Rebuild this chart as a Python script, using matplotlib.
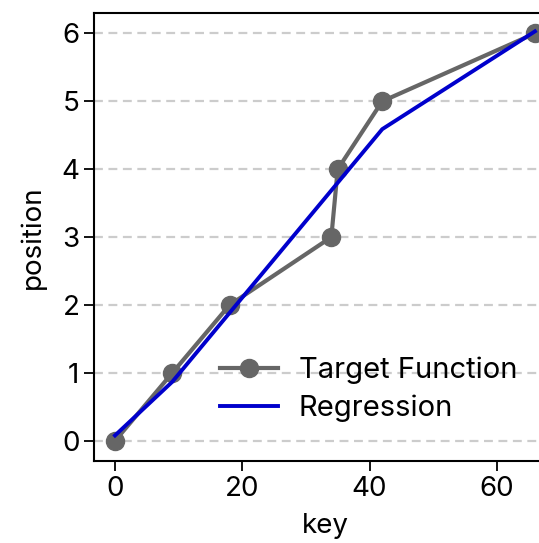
import numpy as np
import matplotlib
matplotlib.use('Agg')
import matplotlib.pyplot as plt

plt.rcParams['font.family'] = ['Inter', 'DejaVu Sans']

# target function (sorted keys -> positions)
keys = [0, 9, 18, 34, 35, 42, 66]
positions = [0, 1, 2, 3, 4, 5, 6]

# piecewise regression
reg_keys = [0, 9, 42, 66]
reg_pos = [0.08, 0.87, 4.59, 6.03]

fig = plt.figure(figsize=(5.39, 5.43), dpi=100)
ax = fig.add_axes([0.1744, 0.1505, 0.857, 0.8255])

ax.plot(keys, positions, '-o', color='#666666', lw=3, ms=13, label='Target Function', zorder=3)
ax.plot(reg_keys, reg_pos, '-', color='#0000cc', lw=2.8, label='Regression', zorder=4)

ax.set_xlim(-3.3, 69.3)
ax.set_ylim(-0.3, 6.3)
ax.set_xticks([0, 20, 40, 60])
ax.set_yticks(range(7))
ax.yaxis.grid(True, ls=(0, (4, 2.5)), color='#cccccc', lw=1.6, zorder=0)
ax.set_axisbelow(True)

ax.tick_params(labelsize=20, length=7, width=1.3)
for s in ax.spines.values():
    s.set_linewidth(1.5)

ax.set_xlabel('key', fontsize=20, labelpad=8)
ax.set_ylabel('position', fontsize=20, labelpad=11)

ax.legend(loc='center left', bbox_to_anchor=(0.408, 0.2827), bbox_transform=fig.transFigure,
          frameon=False, fontsize=21, borderpad=0, borderaxespad=0,
          handlelength=2.0, handletextpad=0.7, labelspacing=0.35)

fig.savefig('out.png', dpi=100)
